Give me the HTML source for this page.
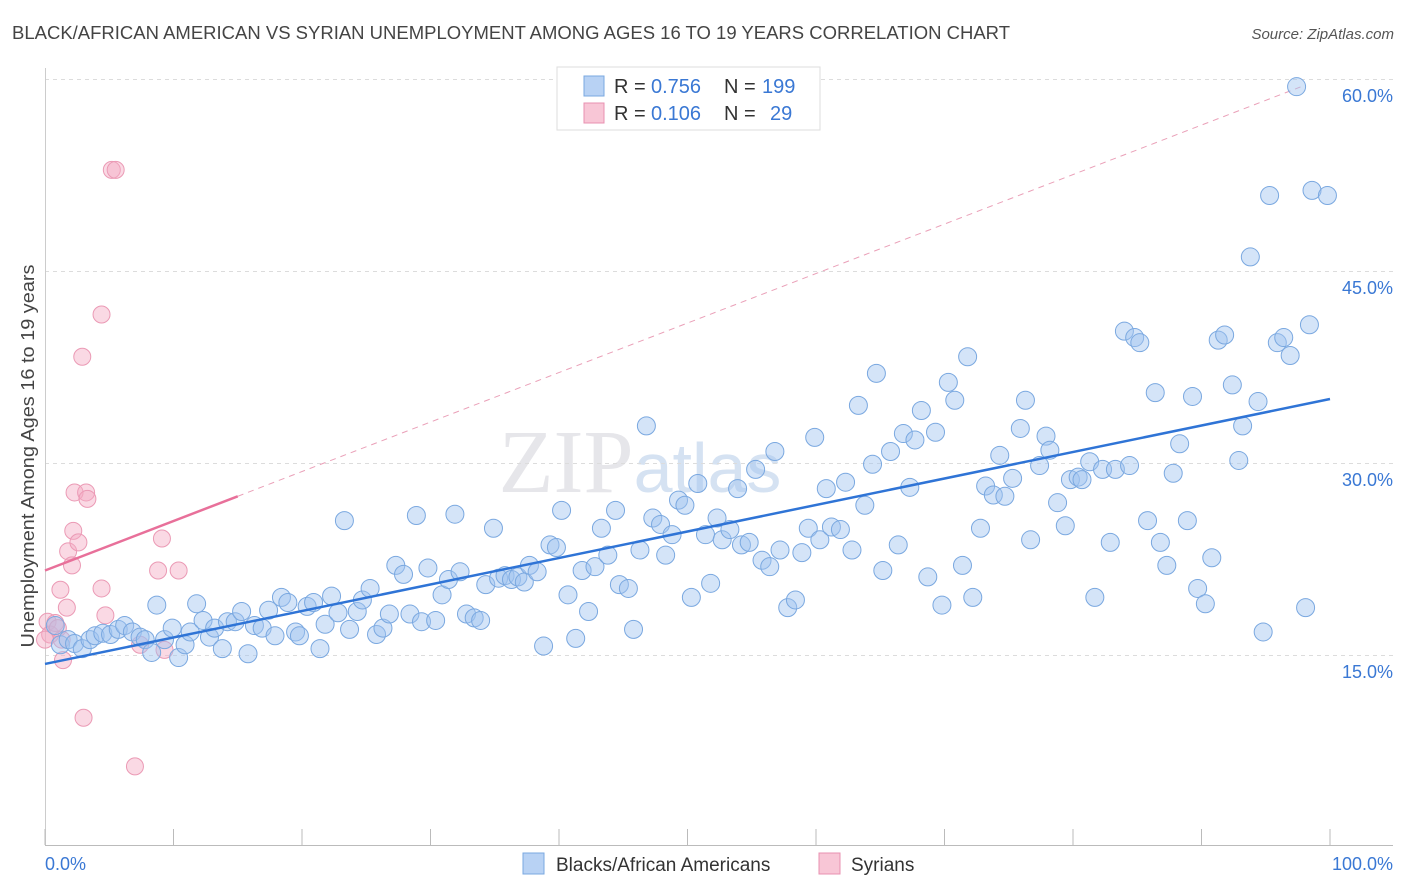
<!DOCTYPE html>
<html><head><meta charset="utf-8"><style>
body{margin:0;background:#fff;font-family:"Liberation Sans",sans-serif;}
svg{display:block}
</style></head><body>
<svg id="chart" width="1406" height="892" xmlns="http://www.w3.org/2000/svg">
<text x="12" y="39" font-size="18" fill="#444" textLength="998" lengthAdjust="spacingAndGlyphs">BLACK/AFRICAN AMERICAN VS SYRIAN UNEMPLOYMENT AMONG AGES 16 TO 19 YEARS CORRELATION CHART</text>
<text x="1394" y="39" font-size="15" fill="#555" font-style="italic" text-anchor="end">Source: ZipAtlas.com</text>
<text x="640" y="492" font-size="90" fill="#e6e6ea" font-family="Liberation Serif" text-anchor="middle">ZIP<tspan fill="#d5e2f2" font-family="Liberation Sans" font-size="70">atlas</tspan></text>
<g id="grid"></g>
<g id="axes"></g>
<g id="marks"></g>
<text transform="translate(34,456) rotate(-90)" font-size="18" fill="#444" text-anchor="middle" textLength="383" lengthAdjust="spacingAndGlyphs">Unemployment Among Ages 16 to 19 years</text>
<g>
<rect x="557" y="67" width="263" height="63" fill="#fff" stroke="#ddd"/>
<rect x="584" y="76" width="20" height="20" fill="#b8d2f4" stroke="#7aa8e0"/>
<rect x="584" y="103" width="20" height="20" fill="#f8c6d6" stroke="#e890b0"/>
<text x="614" y="93" font-size="20" fill="#333">R =</text>
<text x="651" y="93" font-size="20" fill="#3a78d4">0.756</text>
<text x="724" y="93" font-size="20" fill="#333">N =</text>
<text x="762" y="93" font-size="20" fill="#3a78d4">199</text>
<text x="614" y="120" font-size="20" fill="#333">R =</text>
<text x="651" y="120" font-size="20" fill="#3a78d4">0.106</text>
<text x="724" y="120" font-size="20" fill="#333">N =</text>
<text x="770" y="120" font-size="20" fill="#3a78d4">29</text>
</g>
<g>
<rect x="523" y="853" width="21" height="21" fill="#b8d2f4" stroke="#7aa8e0"/>
<text x="556" y="871" font-size="19" fill="#333">Blacks/African Americans</text>
<rect x="819" y="853" width="21" height="21" fill="#f8c6d6" stroke="#e890b0"/>
<text x="851" y="871" font-size="19" fill="#333">Syrians</text>
</g>
</svg>
<script>
const blueX=[0.8,1.2,1.8,2.3,2.9,3.5,3.9,4.5,5.1,5.7,6.2,6.8,7.4,7.8,8.3,8.7,9.3,9.9,10.4,10.9,11.3,11.8,12.3,12.8,13.2,13.8,14.2,14.8,15.3,15.8,16.3,16.9,17.4,17.9,18.4,18.9,19.5,19.8,20.4,20.9,21.4,21.8,22.3,22.8,23.3,23.7,24.3,24.7,25.3,25.8,26.3,26.8,27.3,27.9,28.4,28.9,29.3,29.8,30.4,30.9,31.4,31.9,32.3,32.8,33.4,33.9,34.3,34.9,35.3,35.8,36.3,36.8,37.3,37.7,38.3,38.8,39.3,39.8,40.2,40.7,41.3,41.8,42.3,42.8,43.3,43.8,44.4,44.7,45.4,45.8,46.3,46.8,47.3,47.9,48.3,48.8,49.3,49.8,50.3,50.8,51.4,51.8,52.3,52.7,53.3,53.9,54.2,54.8,55.3,55.8,56.4,56.8,57.2,57.8,58.4,58.9,59.4,59.9,60.3,60.8,61.2,61.9,62.3,62.8,63.3,63.8,64.4,64.7,65.2,65.8,66.4,66.8,67.3,67.7,68.2,68.7,69.3,69.8,70.3,70.8,71.4,71.8,72.2,72.8,73.2,73.8,74.3,74.7,75.3,75.9,76.3,76.7,77.4,77.9,78.2,78.8,79.4,79.8,80.4,80.7,81.3,81.7,82.3,82.9,83.3,84.0,84.4,84.8,85.2,85.8,86.4,86.8,87.3,87.8,88.3,88.9,89.3,89.7,90.3,90.8,91.3,91.8,92.4,92.9,93.2,93.8,94.4,94.8,95.3,95.9,96.4,96.9,97.4,98.1,98.4,98.6,99.8];
const blueY=[17.3,15.8,16.2,15.9,15.5,16.2,16.5,16.7,16.6,17.0,17.3,16.8,16.4,16.2,15.2,18.9,16.2,17.1,14.8,15.8,16.8,19.0,17.7,16.4,17.1,15.5,17.6,17.6,18.4,15.1,17.3,17.1,18.5,16.5,19.5,19.1,16.8,16.5,18.8,19.1,15.5,17.4,19.6,18.3,25.5,17.0,18.4,19.3,20.2,16.6,17.1,18.2,22.0,21.3,18.2,25.9,17.6,21.8,17.7,19.7,20.9,26.0,21.5,18.2,17.9,17.7,20.5,24.9,21.0,21.2,20.9,21.1,20.7,22.0,21.5,15.7,23.6,23.4,26.3,19.7,16.3,21.6,18.4,21.9,24.9,22.8,26.3,20.5,20.2,17.0,23.2,32.9,25.7,25.2,22.8,24.4,27.1,26.7,19.5,28.4,24.4,20.6,25.7,24.0,24.8,28.0,23.6,23.8,29.5,22.4,21.9,30.9,23.2,18.7,19.3,23.0,24.9,32.0,24.0,28.0,25.0,24.8,28.5,23.2,34.5,26.7,29.9,37.0,21.6,30.9,23.6,32.3,28.1,31.8,34.1,21.1,32.4,18.9,36.3,34.9,22.0,38.3,19.5,24.9,28.2,27.5,30.6,27.4,28.8,32.7,34.9,24.0,29.8,32.1,31.0,26.9,25.1,28.7,28.9,28.7,30.1,19.5,29.5,23.8,29.5,40.3,29.8,39.8,39.4,25.5,35.5,23.8,22.0,29.2,31.5,25.5,35.2,20.2,19.0,22.6,39.6,40.0,36.1,30.2,32.9,46.1,34.8,16.8,50.9,39.4,39.8,38.4,59.4,18.7,40.8,51.3,50.9];
const pinkX=[0.2,0.4,0.8,1.0,1.4,1.7,1.8,2.1,2.2,2.3,2.6,1.2,2.9,3.0,3.2,3.3,4.4,4.4,4.7,5.2,5.5,7.0,7.4,8.8,9.1,9.3,10.4,0.0,1.3];
const pinkY=[17.6,16.6,17.5,17.1,14.6,18.7,23.1,22.0,24.7,27.7,23.8,20.1,38.3,10.1,27.7,27.2,41.6,20.2,18.1,52.9,52.9,6.3,15.8,21.6,24.1,15.4,21.6,16.2,16.2];
const blueFit=[14.3,35.0];   // value at x=0, x=100
const pinkFit=[21.6,27.4];   // value at x=0, x=15
const yTicks=[15,30,45,60];
const yTickLabels=["15.0%","30.0%","45.0%","60.0%"];
const xTicks=[0,10,20,30,40,50,60,70,80,90,100];

const NS="http://www.w3.org/2000/svg";
const X=v=>45+v*12.85;
const Y=v=>847-v*12.8;
function mk(tag,attrs,parent){const e=document.createElementNS(NS,tag);for(const k in attrs)e.setAttribute(k,attrs[k]);parent.appendChild(e);return e;}
const grid=document.getElementById('grid'),axes=document.getElementById('axes'),marks=document.getElementById('marks');
yTicks.forEach((t,i)=>{
 const l=mk('line',{x1:45,x2:1393,y1:Y(t)+0.5,y2:Y(t)+0.5,stroke:'#dcdcdc','stroke-dasharray':'4,4'},grid);
 
 
 const tx=mk('text',{x:1393,y:Y(t)+23,'font-size':18,fill:'#3a78d4','text-anchor':'end'},axes);
 tx.textContent=yTickLabels[i];
 
 
});
const ax=mk('line',{x1:45,x2:1393,y1:845.5,y2:845.5,stroke:'#bbb'},axes);


const ay=mk('line',{x1:45.5,x2:45.5,y1:68,y2:845,stroke:'#ccc'},axes);


xTicks.forEach(t=>{
 const l=mk('line',{x1:X(t),x2:X(t),y1:829,y2:845,stroke:'#bbb'},axes);
 
 
});
const xl0=mk('text',{x:45,y:870,'font-size':18,fill:'#3a78d4'},axes);xl0.textContent='0.0%';


const xl1=mk('text',{x:1393,y:870,'font-size':18,fill:'#3a78d4','text-anchor':'end'},axes);xl1.textContent='100.0%';



const pSlope=(pinkFit[1]-pinkFit[0])/15;
const pd=mk('line',{x1:X(15),y1:Y(pinkFit[1]),x2:X(97.7),y2:Y(pinkFit[0]+pSlope*97.7),stroke:'#eaa0b8','stroke-dasharray':'6,5','stroke-width':1},marks);



pinkX.forEach((x,i)=>{
 const c=mk('circle',{cx:X(x),cy:Y(pinkY[i]),r:8.5,fill:'rgba(245,170,195,0.45)',stroke:'#eb9ab5','stroke-width':1},marks);
 
 
});
blueX.forEach((x,i)=>{
 const c=mk('circle',{cx:X(x),cy:Y(blueY[i]),r:9,fill:'rgba(160,196,240,0.45)',stroke:'#7aa8e0','stroke-width':1},marks);
 
 
});
const bl=mk('line',{x1:X(0),y1:Y(blueFit[0]),x2:X(100),y2:Y(blueFit[1]),stroke:'#2f74d6','stroke-width':2.5},marks);


const pl=mk('line',{x1:X(0),y1:Y(pinkFit[0]),x2:X(15),y2:Y(pinkFit[1]),stroke:'#e8709a','stroke-width':2.5},marks);


</script>
</body></html>
